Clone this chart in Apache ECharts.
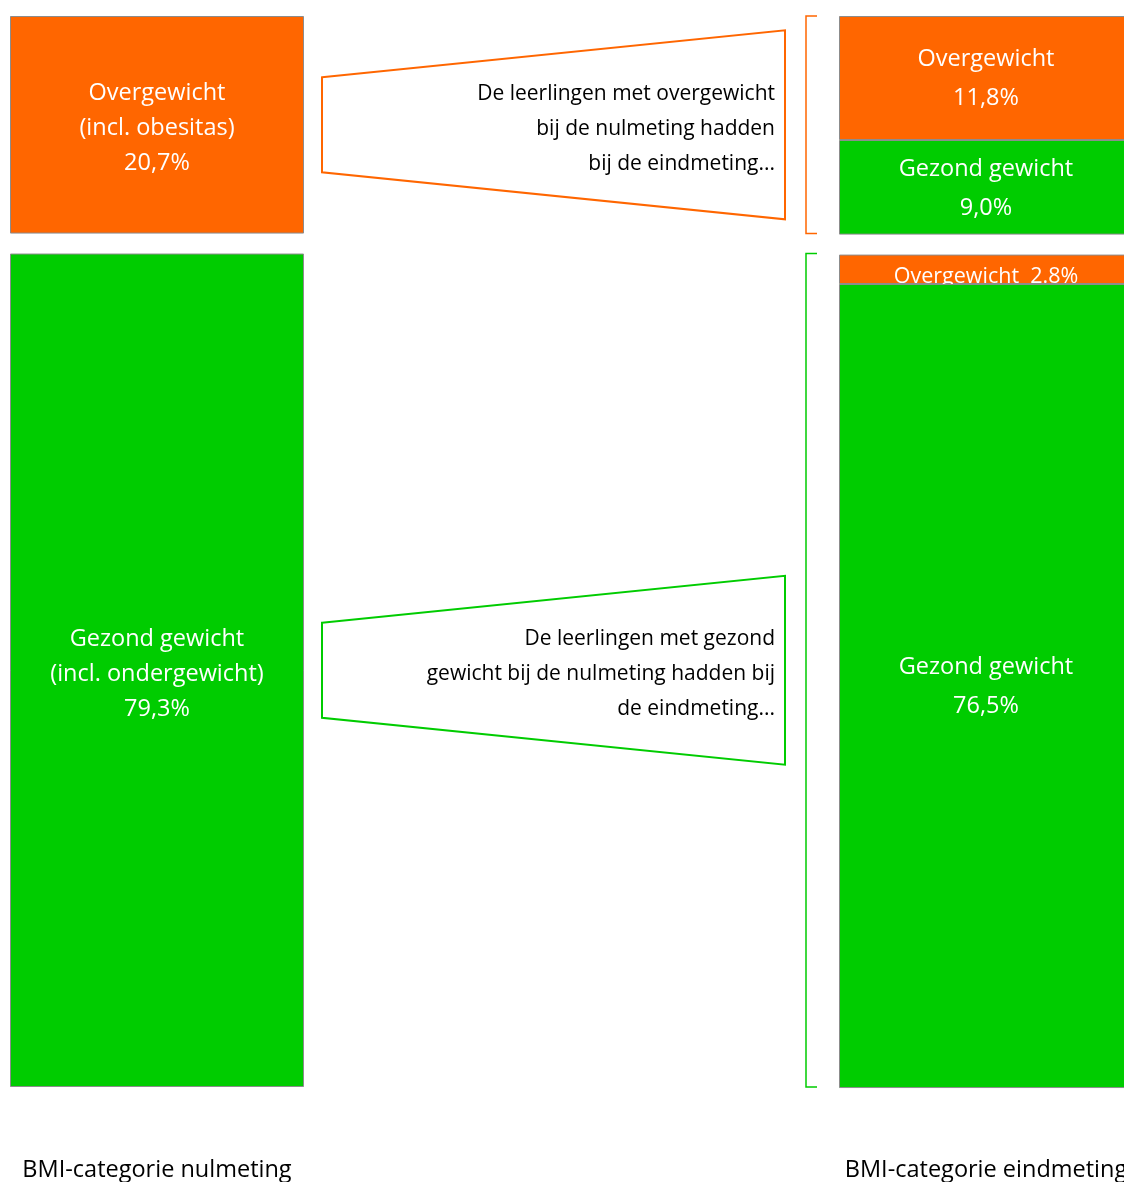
<!DOCTYPE html>
<html>
<head>
<meta charset="UTF-8">
<title>BMI-categorie</title>
<script src="https://cdn.jsdelivr.net/npm/echarts@6/dist/echarts.min.js"></script>
<style>
  html, body { margin: 0; padding: 0; background: #fff; }
  #main { width: 1124px; height: 1182px; }
</style>
</head>
<body>
<div id="main"></div>
<script>
// categorieen (x-as) en percentages per meting
var categories = ['BMI-categorie nulmeting', 'BMI-categorie eindmeting'];
var overTop = [20.7, 11.8];        // overgewicht (bovenste groep)
var gezondTop = ['-', 9.0];        // gezond gewicht binnen bovenste groep
var overBottom = ['-', 2.8];       // overgewicht binnen onderste groep
var gezondBottom = [79.3, 76.5];   // gezond gewicht (onderste groep)
var gapSize = 1.9;                 // witruimte tussen de groepen

var overTopLabels = ['Overgewicht\n(incl. obesitas)\n20,7%', 'Overgewicht\n11,8%'];
var gezondTopLabels = ['', 'Gezond gewicht\n9,0%'];
var overBottomLabels = ['', 'Overgewicht  2.8%'];
var gezondBottomLabels = ['Gezond gewicht\n(incl. ondergewicht)\n79,3%', 'Gezond gewicht\n76,5%'];

// toelichting bij elke groep: [begin, eind] op de y-as
var groups = [[0, 20.7], [20.7 + gapSize, 20.7 + gapSize + 79.3]];
var groupTexts = [
  'De leerlingen met overgewicht\nbij de nulmeting hadden\nbij de eindmeting...',
  'De leerlingen met gezond\ngewicht bij de nulmeting hadden bij\nde eindmeting...'
];

var ORANGE = '#FF6600';
var GREEN = '#00CC00';
var FONT = 'Open Sans';
var BAR_W = 294;
var LINE_H = [35, 39]; // regelafstand links / rechts
var LABEL_DY = [4, 1];

var myChart = echarts.init(document.getElementById('main'));

function labelFor(texts) {
  return {
    show: true,
    position: 'inside',
    color: '#fff',
    fontFamily: FONT,
    fontSize: 23.5,
    formatter: function (p) { return texts[p.dataIndex]; }
  };
}

function items(values) {
  return values.map(function (v, i) {
    return { value: v, label: { lineHeight: LINE_H[i], offset: [0, LABEL_DY[i]] } };
  });
}

function barSeries(name, data, color, label, z) {
  return {
    name: name,
    type: 'bar',
    stack: 'bmi',
    barWidth: BAR_W,
    clip: false,
    z: z,
    data: items(data),
    itemStyle: { color: color, borderColor: '#8c8c8c', borderWidth: 1 },
    label: label,
    emphasis: { disabled: true }
  };
}

var option = {
  animation: false,
  backgroundColor: '#fff',
  grid: { left: 157, right: 138, top: 16, bottom: 95, containLabel: false, outerBoundsMode: 'none' },
  xAxis: {
    type: 'category',
    data: categories,
    boundaryGap: false,
    axisLine: { show: false },
    axisTick: { show: false },
    splitLine: { show: false },
    axisLabel: { margin: 71, color: '#000', fontFamily: FONT, fontSize: 23.5 }
  },
  yAxis: {
    type: 'value',
    inverse: true,
    min: 0,
    max: 101.9,
    show: false
  },
  series: [
    barSeries('Overgewicht', overTop, ORANGE, labelFor(overTopLabels), 2),
    barSeries('Gezond gewicht', gezondTop, GREEN, labelFor(gezondTopLabels), 2),
    {
      name: 'tussenruimte',
      type: 'bar',
      stack: 'bmi',
      barWidth: BAR_W,
      silent: true,
      data: [gapSize, gapSize],
      itemStyle: { color: 'rgba(0,0,0,0)' }
    },
    (function () {
      var s = barSeries('Overgewicht onder', overBottom, ORANGE, labelFor(overBottomLabels), 2);
      s.data[1].label.offset = [0, 8];
      s.data[1].label.fontSize = 21.5;
      return s;
    })(),
    barSeries('Gezond gewicht onder', gezondBottom, GREEN, labelFor(gezondBottomLabels), 3),
    {
      name: 'toelichting',
      type: 'custom',
      silent: true,
      clip: false,
      z: 4,
      encode: { x: 2, y: [0, 1] },
      data: groups.map(function (g) { return [g[0], g[1], 1]; }),
      renderItem: function (params, api) {
        var color = params.dataIndex === 0 ? ORANGE : GREEN;
        var top = api.coord([1, api.value(0)]);
        var bot = api.coord([1, api.value(1)]);
        var leftX = api.coord([0, api.value(0)])[0] + BAR_W / 2 + 18;
        var rightX = top[0] - 201;
        var brX = top[0] - 180;
        var cy = (top[1] + bot[1]) / 2;
        return {
          type: 'group',
          children: [
            {
              type: 'polygon',
              shape: { points: [[leftX, cy - 47.5], [rightX, cy - 94.5], [rightX, cy + 94.5], [leftX, cy + 47.5]] },
              style: { fill: '#fff', stroke: color, lineWidth: 2 }
            },
            {
              type: 'polyline',
              shape: { points: [[brX + 11, top[1]], [brX, top[1]], [brX, bot[1]], [brX + 11, bot[1]]] },
              style: { fill: null, stroke: color, lineWidth: 1.5 }
            },
            {
              type: 'text',
              style: {
                text: groupTexts[params.dataIndex],
                x: rightX - 10,
                y: cy + 4,
                align: 'right',
                verticalAlign: 'middle',
                fill: '#000',
                fontFamily: FONT,
                fontSize: 21,
                lineHeight: 35
              }
            }
          ]
        };
      }
    }
  ]
};

myChart.setOption(option);
</script>
</body>
</html>
